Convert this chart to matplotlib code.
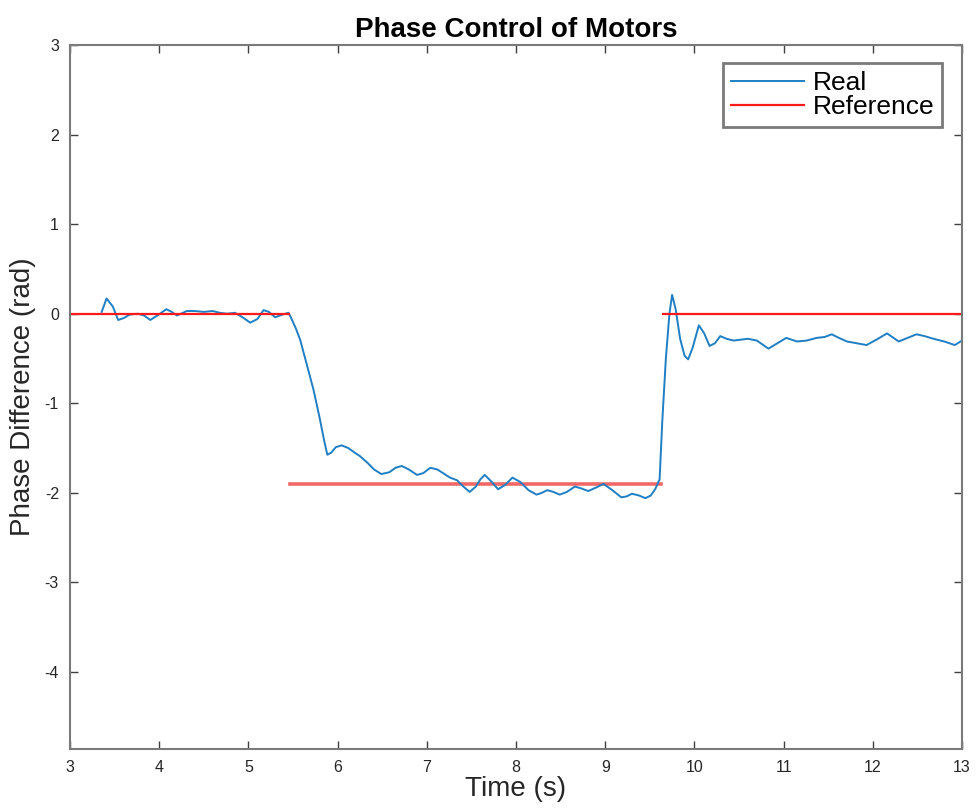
#!/usr/bin/env python3
"""
Phase difference of two motors against the reference steps
"""
import matplotlib.pyplot as plt

time_real = [3.355, 3.41, 3.48, 3.54, 3.6, 3.67, 3.76, 3.83, 3.9, 3.98, 4.08, 4.14,
             4.2, 4.31, 4.4, 4.5, 4.6, 4.68, 4.76, 4.85, 4.95, 5.02, 5.1, 5.17,
             5.23, 5.3, 5.38, 5.45, 5.48, 5.53, 5.58, 5.65, 5.73, 5.8, 5.85,
             5.885, 5.93, 5.98, 6.045, 6.12, 6.19, 6.25, 6.33, 6.41, 6.49,
             6.58, 6.65, 6.72, 6.8, 6.89, 6.96, 7.04, 7.12, 7.26, 7.34, 7.41,
             7.48, 7.55, 7.6, 7.65, 7.72, 7.8, 7.88, 7.96, 8.05, 8.14, 8.23,
             8.29, 8.35, 8.42, 8.49, 8.57, 8.66, 8.73, 8.81, 8.9, 8.98, 9.08,
             9.18, 9.24, 9.3, 9.38, 9.45, 9.51, 9.56, 9.61, 9.64, 9.68, 9.72,
             9.75, 9.79, 9.84, 9.89, 9.93, 9.98, 10.05, 10.11, 10.17, 10.23,
             10.29, 10.36, 10.44, 10.52, 10.6, 10.7, 10.83, 10.93, 11.03,
             11.15, 11.26, 11.37, 11.46, 11.54, 11.62, 11.71, 11.82, 11.93,
             12.04, 12.16, 12.29, 12.39, 12.49, 12.58, 12.68, 12.8, 12.92, 13.0]
phase_real = [0.02, 0.17, 0.08, -0.07, -0.05, -0.01, 0.0, -0.02, -0.07, -0.02, 0.05, 0.02,
              -0.02, 0.03, 0.03, 0.02, 0.03, 0.01, 0.0, 0.01, -0.05, -0.1, -0.06, 0.04,
              0.02, -0.04, -0.01, 0.01, -0.05, -0.16, -0.29, -0.55, -0.85, -1.17, -1.42,
              -1.575, -1.55, -1.49, -1.47, -1.5, -1.55, -1.59, -1.66, -1.74, -1.79,
              -1.77, -1.72, -1.7, -1.74, -1.8, -1.78, -1.72, -1.74, -1.83, -1.86, -1.93,
              -1.99, -1.93, -1.85, -1.8, -1.87, -1.96, -1.91, -1.83, -1.88, -1.97, -2.02,
              -2.0, -1.97, -1.99, -2.02, -1.99, -1.93, -1.95, -1.98, -1.94, -1.9, -1.97,
              -2.05, -2.04, -2.01, -2.03, -2.06, -2.03, -1.96, -1.85, -1.2, -0.5, 0.0,
              0.21, 0.05, -0.28, -0.47, -0.51, -0.38, -0.13, -0.22, -0.36, -0.33,
              -0.25, -0.28, -0.3, -0.29, -0.28, -0.3, -0.39, -0.33, -0.27,
              -0.31, -0.3, -0.27, -0.26, -0.23, -0.27, -0.31, -0.33, -0.35,
              -0.29, -0.22, -0.31, -0.27, -0.23, -0.25, -0.28, -0.31, -0.35, -0.3]

# reference steps
ref_time_1 = [3.0, 5.45]
ref_phase_1 = [0.0, 0.0]
ref_time_2 = [5.47, 9.62]
ref_phase_2 = [-1.9, -1.9]
ref_time_3 = [9.65, 13.0]
ref_phase_3 = [0.0, 0.0]

x_ticks = [3, 4, 5, 6, 7, 8, 9, 10, 11, 12, 13]
y_ticks = [-4, -3, -2, -1, 0, 1, 2, 3]

plt.rcParams['font.family'] = ['Liberation Sans', 'DejaVu Sans']
plt.rcParams['axes.unicode_minus'] = False

fig = plt.figure(figsize=(9.78, 8.08), dpi=100)
ax = fig.add_axes([70 / 978, 1 - 749 / 808, 892 / 978, 704 / 808])

ax.plot(ref_time_2, ref_phase_2, color='#f26868', linewidth=2.6)
ax.plot(time_real, phase_real, color='#1f7fc4', linewidth=1.4, label='Real')
ax.plot(ref_time_1, ref_phase_1, color='#ff1a1a', linewidth=1.6,
        label='Reference')
ax.plot(ref_time_3, ref_phase_3, color='#ff1a1a', linewidth=1.6)

ax.set_xlim(3, 13)
ax.set_ylim(-4.86, 3)
ax.set_xticks(x_ticks)
ax.set_yticks(y_ticks)

axis_grey = '#7a7a7a'
for side in ax.spines.values():
    side.set_color(axis_grey)
    side.set_linewidth(1.5)
ax.tick_params(direction='in', length=6, width=1, color='#404040',
               labelsize=11.5, labelcolor='#262626', top=True, right=True,
               pad=8)

ax.set_title('Phase Control of Motors', fontsize=20, fontweight='bold',
             pad=6)
ax.set_xlabel('Time (s)', fontsize=20, color='#262626', labelpad=1)
ax.set_ylabel('Phase Difference (rad)', fontsize=20, color='#262626',
              labelpad=6)

leg = ax.legend(loc='upper right', bbox_to_anchor=(0.978, 0.974),
                fontsize=19, fancybox=False, framealpha=1,
                handlelength=2.75, handletextpad=0.35, borderpad=0.3,
                labelspacing=0.0, borderaxespad=0)
leg.get_frame().set_edgecolor(axis_grey)
leg.get_frame().set_linewidth(2)

fig.savefig('out.png', dpi=100)
